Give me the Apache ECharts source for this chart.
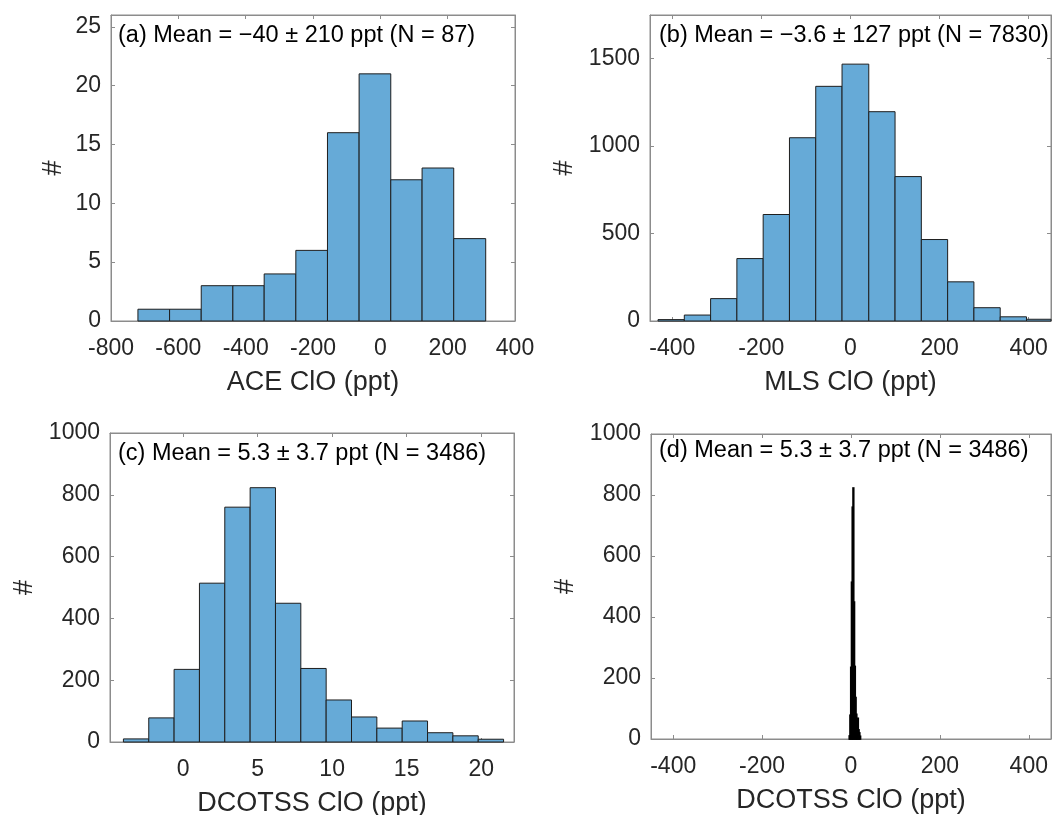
<!DOCTYPE html>
<html>
<head>
<meta charset="utf-8">
<title>ClO histograms</title>
<script src="https://cdn.jsdelivr.net/npm/echarts@6/dist/echarts.min.js"></script>
<style>
  html, body { margin: 0; padding: 0; background: #fff; }
  #chart { width: 1052px; height: 815px; }
</style>
</head>
<body>
<div id="chart"></div>
<script>
// ---- histogram bins (edges) and counts ----
const aceEdges  = [-720, -626, -532, -438, -345, -251, -157, -63, 31, 124, 218, 313];
const aceCounts = [1, 1, 3, 3, 4, 6, 16, 21, 12, 13, 7];

const mlsEdges  = [-432, -373, -314, -255, -196, -137, -78, -19, 41, 100, 159, 218, 277, 336, 395, 454];
const mlsCounts = [8, 34, 128, 357, 609, 1048, 1342, 1469, 1197, 826, 466, 224, 76, 24, 10];

const dcotssEdges  = [-4.0, -2.3, -0.6, 1.1, 2.8, 4.5, 6.2, 7.9, 9.6, 11.3, 13.0, 14.7, 16.4, 18.1, 19.8, 21.5];
const dcotssCounts = [10, 78, 235, 514, 760, 823, 449, 238, 136, 81, 45, 68, 30, 20, 9];

// ---- tick values ----
const aceXTicks    = [-800, -600, -400, -200, 0, 200, 400];
const aceYTicks    = [0, 5, 10, 15, 20, 25];
const mlsXTicks    = [-400, -200, 0, 200, 400];
const mlsYTicks    = [0, 500, 1000, 1500];
const dcotssXTicks = [0, 5, 10, 15, 20];
const wideXTicks   = [-400, -200, 0, 200, 400];
const countYTicks  = [0, 200, 400, 600, 800, 1000];

// ---- panel texts ----
const panelNotes = [
  '(a) Mean = \u221240 \u00b1 210 ppt (N = 87)',
  '(b) Mean = \u22123.6 \u00b1 127 ppt (N = 7830)',
  '(c) Mean = 5.3 \u00b1 3.7 ppt (N = 3486)',
  '(d) Mean = 5.3 \u00b1 3.7 ppt (N = 3486)'
];
const xTitles = ['ACE ClO (ppt)', 'MLS ClO (ppt)', 'DCOTSS ClO (ppt)', 'DCOTSS ClO (ppt)'];
const yTitle = '#';

// ---- styling ----
const FONT = '"Liberation Sans", Arial, Helvetica, sans-serif';
const FRAME = '#8c8c8c';
const TEXT = '#262626';
const BAR_FILL = '#66aad7';
const BAR_EDGE = '#1e1e1e';

function binsToData(edges, counts) {
  return counts.map((c, i) => [edges[i], edges[i + 1], c]);
}

// one histogram bar per bin, laid out on the grid's own value axes
function binRenderer(edgeColor, edgeWidth) {
  return function (params, api) {
    const top = api.coord([api.value(0), api.value(2)]);
    const base = api.coord([api.value(1), 0]);
    const cs = params.coordSys;
    const shape = echarts.graphic.clipRectByRect(
      { x: top[0], y: top[1], width: base[0] - top[0], height: base[1] - top[1] },
      { x: cs.x, y: cs.y, width: cs.width, height: cs.height }
    );
    if (!shape) return;
    return {
      type: 'rect',
      shape: shape,
      style: { fill: BAR_FILL, stroke: edgeColor, lineWidth: edgeWidth }
    };
  };
}

const panels = [
  { grid: { left: 111, top: 15, width: 404, height: 306 },
    x: [-800, 400], y: [0, 26], xt: aceXTicks, yt: aceYTicks, yGap: 44,
    edge: [BAR_EDGE, 1], data: binsToData(aceEdges, aceCounts) },
  { grid: { left: 650, top: 15, width: 401, height: 306 },
    x: [-450, 450], y: [0, 1750], xt: mlsXTicks, yt: mlsYTicks, yGap: 72,
    edge: [BAR_EDGE, 1], data: binsToData(mlsEdges, mlsCounts) },
  { grid: { left: 110, top: 433, width: 404, height: 309 },
    x: [-4.9, 22.2], y: [0, 1000], xt: dcotssXTicks, yt: countYTicks, yGap: 72,
    edge: [BAR_EDGE, 1], data: binsToData(dcotssEdges, dcotssCounts) },
  { grid: { left: 651, top: 434, width: 400, height: 305 },
    x: [-450, 450], y: [0, 1000], xt: wideXTicks, yt: countYTicks, yGap: 72,
    edge: ['#000', 1.6], data: binsToData(dcotssEdges, dcotssCounts) }
];

const noteAnchors = [[118, 24], [659, 24], [118, 442], [659, 439]];

const grids = [], xAxes = [], yAxes = [], series = [], graphics = [];

panels.forEach((p, i) => {
  grids.push(Object.assign({ show: true, borderColor: FRAME, borderWidth: 1,
    backgroundColor: '#fff', containLabel: false, outerBoundsMode: 'none' }, p.grid));

  const tickStyle = { color: FRAME, width: 1 };
  const labelStyle = { fontFamily: FONT, fontSize: 23, color: TEXT };

  // bottom x axis with labels
  xAxes.push({
    type: 'value', gridIndex: i, position: 'bottom', min: p.x[0], max: p.x[1],
    axisLine: { show: true, onZero: false, lineStyle: { color: FRAME } },
    axisTick: { show: true, inside: true, length: 4, customValues: p.xt, lineStyle: tickStyle },
    axisLabel: Object.assign({ show: true, margin: 16, customValues: p.xt,
      formatter: v => String(v) }, labelStyle),
    splitLine: { show: false },
    name: xTitles[i], nameLocation: 'middle', nameGap: 48,
    nameTextStyle: { fontFamily: FONT, fontSize: 27, color: TEXT }
  });
  // top x axis: ticks only
  xAxes.push({
    type: 'value', gridIndex: i, position: 'top', min: p.x[0], max: p.x[1],
    axisLine: { show: true, onZero: false, lineStyle: { color: FRAME } },
    axisTick: { show: true, inside: true, length: 4, customValues: p.xt, lineStyle: tickStyle },
    axisLabel: { show: false }, splitLine: { show: false }
  });
  // left y axis with labels
  yAxes.push({
    type: 'value', gridIndex: i, position: 'left', min: p.y[0], max: p.y[1],
    axisLine: { show: true, onZero: false, lineStyle: { color: FRAME } },
    axisTick: { show: true, inside: true, length: 4, customValues: p.yt, lineStyle: tickStyle },
    axisLabel: Object.assign({ show: true, margin: 10, customValues: p.yt,
      formatter: v => String(v) }, labelStyle),
    splitLine: { show: false },
    name: yTitle, nameLocation: 'middle', nameGap: p.yGap, nameRotate: 90,
    nameTextStyle: { fontFamily: FONT, fontSize: 27, color: TEXT }
  });
  // right y axis: ticks only
  yAxes.push({
    type: 'value', gridIndex: i, position: 'right', min: p.y[0], max: p.y[1],
    axisLine: { show: true, onZero: false, lineStyle: { color: FRAME } },
    axisTick: { show: true, inside: true, length: 4, customValues: p.yt, lineStyle: tickStyle },
    axisLabel: { show: false }, splitLine: { show: false }
  });

  series.push({
    type: 'custom', xAxisIndex: 2 * i, yAxisIndex: 2 * i,
    renderItem: binRenderer(p.edge[0], p.edge[1]), data: p.data,
    encode: { x: [0, 1], y: 2 }, silent: true, animation: false
  });

  graphics.push({
    type: 'text', left: noteAnchors[i][0], top: noteAnchors[i][1], z: 100,
    style: { text: panelNotes[i], font: '23.5px ' + FONT, fill: '#000' }
  });
});

const chart = echarts.init(document.getElementById('chart'), null, { renderer: 'canvas' });
chart.setOption({
  animation: false,
  grid: grids,
  xAxis: xAxes,
  yAxis: yAxes,
  series: series,
  graphic: graphics
});
</script>
</body>
</html>
